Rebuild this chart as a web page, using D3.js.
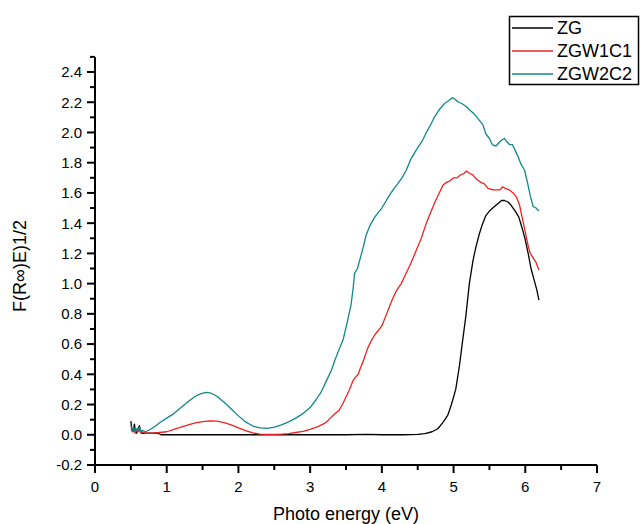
<!DOCTYPE html>
<html><head><meta charset="utf-8">
<script src="https://cdn.jsdelivr.net/npm/d3@7"></script>
<style>body{margin:0;background:#fff}svg{display:block}text{font-family:Arial,"Liberation Sans",sans-serif}</style>
</head><body><svg id="c" width="640" height="524"></svg>
<script>
const seriesNames = ["ZG","ZGW1C1","ZGW2C2"];
const seriesColors = ["#000000","#ee2222","#118888"];
const xTickLabels = ["0","1","2","3","4","5","6","7"];
const yTickLabels = ["-0.2","0.0","0.2","0.4","0.6","0.8","1.0","1.2","1.4","1.6","1.8","2.0","2.2","2.4"];

const zgE = [0.5,0.51,0.53,0.55,0.56,0.58,0.6,0.62,0.63,0.65,0.7,0.8,0.88,0.92,1.0,1.5,2.0,2.5,3.0,3.5,3.8,4.0,4.3,4.5,4.6,4.7,4.78,4.85,4.92,4.97,5.03,5.08,5.12,5.17,5.22,5.27,5.31,5.36,5.4,5.45,5.5,5.57,5.62,5.67,5.71,5.76,5.8,5.86,5.91,5.96,6.0,6.04,6.08,6.12,6.16,6.19];
const zgV = [0.09,0.05,0.02,0.07,0.03,0.01,0.04,0.06,0.03,0.01,0.01,0.01,0.01,0.0,0.0,0.0,0.0,0.0,0.0,0.0,0.003,0.0,0.0,0.002,0.008,0.02,0.04,0.08,0.13,0.2,0.3,0.45,0.6,0.78,1.0,1.15,1.24,1.33,1.39,1.45,1.48,1.51,1.53,1.55,1.55,1.54,1.52,1.48,1.44,1.36,1.29,1.2,1.1,1.03,0.96,0.89];

const r1E = [0.5,0.52,0.54,0.56,0.58,0.6,0.62,0.64,0.66,0.7,0.8,0.9,1.0,1.1,1.2,1.3,1.4,1.5,1.6,1.7,1.8,1.9,2.0,2.1,2.2,2.3,2.4,2.5,2.6,2.7,2.8,2.9,3.0,3.1,3.2,3.25,3.3,3.35,3.4,3.45,3.5,3.55,3.6,3.63,3.67,3.7,3.75,3.8,3.85,3.9,4.0,4.05,4.1,4.15,4.2,4.27,4.34,4.4,4.48,4.55,4.62,4.68,4.75,4.8,4.85,4.9,4.95,5.0,5.05,5.1,5.15,5.18,5.22,5.27,5.32,5.38,5.43,5.48,5.55,5.6,5.65,5.68,5.72,5.78,5.83,5.88,5.92,5.96,6.0,6.04,6.07,6.11,6.15,6.19];
const r1V = [0.04,0.02,0.03,0.01,0.03,0.02,0.03,0.01,0.02,0.01,0.01,0.015,0.02,0.035,0.05,0.065,0.078,0.087,0.092,0.09,0.08,0.065,0.045,0.027,0.012,0.004,0.002,0.002,0.004,0.008,0.015,0.023,0.035,0.052,0.075,0.095,0.12,0.14,0.16,0.2,0.25,0.3,0.36,0.38,0.4,0.44,0.5,0.57,0.62,0.66,0.72,0.78,0.84,0.9,0.95,1.0,1.07,1.13,1.22,1.3,1.4,1.47,1.55,1.6,1.65,1.67,1.68,1.7,1.7,1.72,1.73,1.745,1.73,1.72,1.69,1.67,1.66,1.63,1.62,1.62,1.62,1.64,1.63,1.62,1.6,1.57,1.52,1.43,1.34,1.25,1.2,1.17,1.14,1.09];

const r2E = [0.5,0.52,0.54,0.56,0.58,0.6,0.62,0.64,0.66,0.7,0.75,0.8,0.85,0.9,1.0,1.1,1.2,1.3,1.4,1.47,1.55,1.62,1.7,1.8,1.9,2.0,2.1,2.2,2.3,2.4,2.5,2.6,2.7,2.8,2.9,3.0,3.08,3.15,3.23,3.3,3.35,3.4,3.46,3.52,3.57,3.6,3.62,3.66,3.7,3.74,3.78,3.83,3.9,3.95,4.0,4.05,4.1,4.17,4.22,4.28,4.34,4.4,4.45,4.5,4.57,4.62,4.68,4.73,4.8,4.87,4.93,4.98,5.02,5.07,5.12,5.18,5.22,5.27,5.31,5.36,5.41,5.45,5.5,5.54,5.59,5.63,5.67,5.71,5.74,5.78,5.82,5.86,5.9,5.94,5.99,6.03,6.07,6.11,6.15,6.19];
const r2V = [0.06,0.03,0.05,0.02,0.04,0.03,0.05,0.02,0.03,0.02,0.03,0.045,0.06,0.08,0.11,0.14,0.18,0.22,0.255,0.27,0.28,0.275,0.255,0.215,0.17,0.125,0.085,0.058,0.045,0.042,0.05,0.065,0.085,0.11,0.14,0.18,0.23,0.28,0.36,0.43,0.5,0.56,0.63,0.75,0.86,0.97,1.07,1.1,1.17,1.24,1.32,1.38,1.44,1.47,1.5,1.54,1.58,1.63,1.66,1.7,1.75,1.82,1.86,1.9,1.95,2.0,2.05,2.1,2.15,2.19,2.21,2.23,2.22,2.2,2.19,2.17,2.15,2.13,2.11,2.08,2.05,1.99,1.96,1.92,1.91,1.93,1.95,1.96,1.94,1.92,1.92,1.88,1.84,1.79,1.75,1.67,1.58,1.51,1.5,1.48];

const series = [
  {name: seriesNames[0], color: seriesColors[0], e: zgE, v: zgV},
  {name: seriesNames[1], color: seriesColors[1], e: r1E, v: r1V},
  {name: seriesNames[2], color: seriesColors[2], e: r2E, v: r2V}
];

const svg = d3.select("#c");
const x = d3.scaleLinear().domain([0,7]).range([95,597]);
const y = d3.scaleLinear().domain([-0.2,2.4]).range([465,72]);

// axes
const gx = svg.append("g").attr("transform","translate(0,465)");
gx.append("line").attr("x1",x(0)).attr("x2",x(7)).attr("stroke","#000").attr("stroke-width",2);
d3.range(0,7.01,0.5).forEach(t=>{
  const major = Math.abs(t-Math.round(t))<1e-9;
  gx.append("line").attr("x1",x(t)).attr("x2",x(t)).attr("y1",0).attr("y2",major?8:5).attr("stroke","#000").attr("stroke-width",2);
});
xTickLabels.forEach(l=>{
  gx.append("text").attr("x",x(+l)).attr("y",27).attr("text-anchor","middle").attr("font-size",15).text(l);
});

const gy = svg.append("g").attr("transform","translate(95,0)");
gy.append("line").attr("y1",y(-0.2)+1).attr("y2",y(2.5)).attr("stroke","#000").attr("stroke-width",2);
d3.range(-0.2,2.51,0.1).forEach(t=>{
  const major = Math.abs(t*5-Math.round(t*5))<1e-6;
  gy.append("line").attr("x1",0).attr("x2",major?-8:-5).attr("y1",y(t)).attr("y2",y(t)).attr("stroke","#000").attr("stroke-width",2);
});
yTickLabels.forEach(l=>{
  gy.append("text").attr("x",-13).attr("y",y(+l)).attr("dy","0.36em").attr("text-anchor","end").attr("font-size",15).text(l);
});

svg.append("text").attr("x",346).attr("y",520).attr("text-anchor","middle").attr("font-size",18).text("Photo energy (eV)");
svg.append("text").attr("transform","translate(26,266) rotate(-90)").attr("text-anchor","middle").attr("font-size",18).text("F(R\u221E)E)1/2");

// lines
const line = d3.line().x(d=>x(d[0])).y(d=>y(d[1]));
series.forEach(s=>{
  svg.append("path").datum(s.e.map((e,i)=>[e,s.v[i]])).attr("d",line)
    .attr("fill","none").attr("stroke",s.color).attr("stroke-width",1.3).attr("stroke-linejoin","round");
});

// legend
const lg = svg.append("g");
lg.append("rect").attr("x",509.5).attr("y",16.5).attr("width",129).attr("height",68).attr("fill","#fff").attr("stroke","#000").attr("stroke-width",1.5);
series.forEach((s,i)=>{
  const yy = 28 + i*23;
  lg.append("line").attr("x1",512).attr("x2",553).attr("y1",yy).attr("y2",yy).attr("stroke",s.color).attr("stroke-width",1.3);
  lg.append("text").attr("x",557).attr("y",yy).attr("dy","0.36em").attr("font-size",18).text(s.name);
});
</script></body></html>
